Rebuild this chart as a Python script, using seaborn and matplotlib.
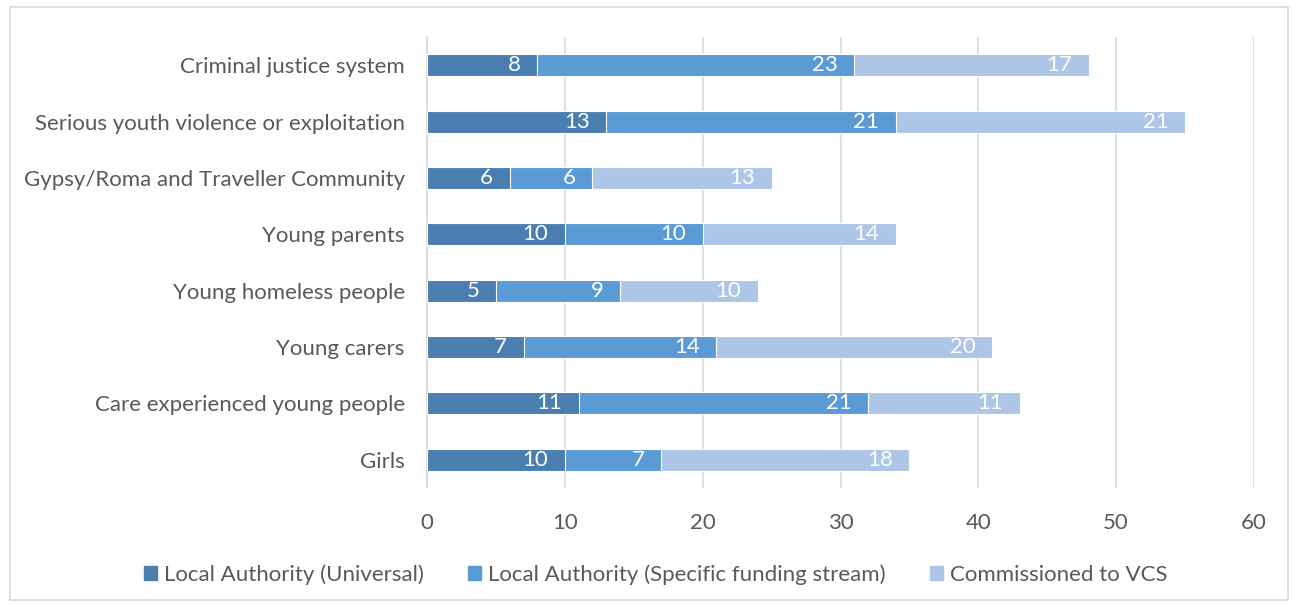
import matplotlib
matplotlib.use("Agg")
import matplotlib.pyplot as plt
from matplotlib.patches import Rectangle
import seaborn as sns
import pandas as pd
import numpy as np

categories = [
    "Criminal justice system",
    "Serious youth violence or exploitation",
    "Gypsy/Roma and Traveller Community",
    "Young parents",
    "Young homeless people",
    "Young carers",
    "Care experienced young people",
    "Girls",
]
la_universal = [8, 13, 6, 10, 5, 7, 11, 10]
la_specific = [23, 21, 6, 10, 9, 14, 21, 7]
commissioned_vcs = [17, 21, 13, 14, 10, 20, 11, 18]

series_names = [
    "Local Authority (Universal)",
    "Local Authority (Specific funding stream)",
    "Commissioned to VCS",
]
colors = ["#4A7EB1", "#5B9BD5", "#ADC6E7"]

sns.set_theme(style="white")
plt.rcParams["font.family"] = ["Lato", "DejaVu Sans"]

FS = 16

df = pd.DataFrame({
    "category": categories,
    series_names[0]: la_universal,
    series_names[1]: la_specific,
    series_names[2]: commissioned_vcs,
})
cum = df[series_names].cumsum(axis=1)

fig = plt.figure(figsize=(12.98, 6.05), dpi=100)
ax = fig.add_axes([0.329, 0.1934, 0.9661 - 0.329, 0.9388 - 0.1934])

# stacked bars: draw cumulative totals from the outermost segment inward
for name, color in zip(reversed(series_names), reversed(colors)):
    sns.barplot(data=cum.assign(category=categories), x=name, y="category",
                orient="h", color=color, width=0.39, edgecolor="white",
                linewidth=0.8, saturation=1, ax=ax, order=categories, zorder=3)

# value labels at the inside end of each segment
for name, vals in zip(series_names, [la_universal, la_specific, commissioned_vcs]):
    for i, (end, v) in enumerate(zip(cum[name], vals)):
        ax.text(end - 1.2, i, str(v), ha="right", va="center",
                color="white", fontsize=FS, zorder=4)

ax.set_xlim(0, 60)
ax.set_ylim(7.5, -0.5)
ax.set_xticks(range(0, 61, 10))
ax.xaxis.grid(True, color="#D9D9D9", linewidth=1.2, zorder=0)
ax.yaxis.grid(False)
ax.set_xlabel("")
ax.set_ylabel("")
for s in ["top", "right", "bottom"]:
    ax.spines[s].set_visible(False)
ax.spines["left"].set_color("#D9D9D9")
ax.spines["left"].set_linewidth(1.2)
ax.tick_params(axis="both", length=0, labelsize=FS, labelcolor="#595959")
ax.tick_params(axis="y", pad=16)
ax.tick_params(axis="x", pad=18)

handles = [Rectangle((0, 0), 1, 1, color=c) for c in colors]
fig.legend(handles, series_names, loc="center", bbox_to_anchor=(0.505, 0.05),
           ncol=3, frameon=False, fontsize=FS, labelcolor="#595959",
           handlelength=0.6, handleheight=0.6, handletextpad=0.3,
           columnspacing=2.0)

# chart area border
fig.add_artist(Rectangle((10 / 1298, 5 / 605), 1 - 20 / 1298, 1 - 12 / 605,
                         transform=fig.transFigure, fill=False,
                         edgecolor="#D9D9D9", linewidth=1.2))

fig.savefig("out.png", dpi=100, facecolor="white")
